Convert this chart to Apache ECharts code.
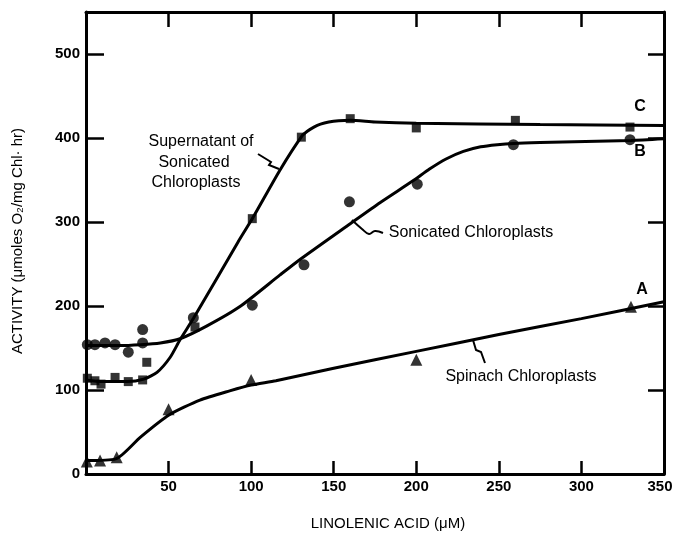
<!DOCTYPE html>
<html><head><meta charset="utf-8">
<script src="https://cdn.jsdelivr.net/npm/echarts@6/dist/echarts.min.js"></script>
<style>html,body{margin:0;padding:0;background:#fff}#c{width:674px;height:533px}</style>
</head><body><div id="c"></div>
<script>
// Measured points (x = linolenic acid µM, y = activity)
const pointsA = [[0.5,15],[8.5,16],[18.6,20],[50,77],[100,112],[200,136],[330,199]];
const pointsB = [[0.8,154],[5.4,154],[11.5,156],[17.6,154],[25.6,145],[34.3,156],[34.3,172],[65,186],[100.7,201],[132,249],[159.5,324],[200.6,345],[258.8,392],[329.4,398]];
const pointsC = [[0.8,114],[5.4,111],[9.1,107],[17.6,115],[25.6,110],[34.3,112],[36.8,133],[66,175],[100.7,304],[130.4,401],[160,423],[200,412],[260,421],[329.4,413]];
// Hand-drawn fitted curves
const curveA = [[0,16],[18,18],[33,44],[50,70],[69,88],[87,99],[100,106],[115,111],[150,126],[200,146],[250,166],[300,185],[350,205]];
const curveB = [[0,153],[20,153],[33,154],[45,156],[57,161],[73,176],[93,199],[117.5,237],[130,256],[160,298],[178,323],[198,349],[208,363],[218,375],[228.5,384],[239,389.5],[249,392],[259,393.5],[275,394.5],[330,397],[350,399]];
const curveC = [[0,112],[10,110],[25,110],[35,113],[43,121],[51,139],[57,160],[65,185],[92,276],[101,305],[117.5,362],[130.6,402],[134,408],[138,413],[142,416.5],[147,419],[153,420.5],[160,421],[175,419],[200,417.5],[275,416],[350,415]];
const xTicks = [0,50,100,150,200,250,300,350];
const yTicks = [0,100,200,300,400,500];

const chart = echarts.init(document.getElementById('c'), null, {renderer:'canvas'});
const tickFont = {fontFamily:"'Liberation Sans',Arial,sans-serif", fontWeight:'bold', fontSize:15, color:'#000'};
const txtFont = "16px 'Liberation Sans', Arial, sans-serif";
const blk = '#000';
const lineSer = (d) => ({type:'line', data:d, showSymbol:false, smooth:0.22, silent:true, lineStyle:{color:blk,width:3}, z:2});
const ptSer = (d, sym, size) => ({type:'scatter', data:d, symbol:sym, symbolSize:size, itemStyle:{color:blk}, silent:true, z:3});
const frameLine = {onZero:false, lineStyle:{color:blk,width:3}};
const lastX = xTicks[xTicks.length-1];

chart.setOption({
  animation:false,
  backgroundColor:'#fff',
  grid:{left:86, right:10, top:12, bottom:59, containLabel:false, outerBoundsMode:'none'},
  xAxis:[
    {type:'value', min:0, max:350, interval:50, position:'bottom',
     axisLine:frameLine, splitLine:{show:false},
     axisTick:{inside:true, length:13, lineStyle:{color:blk,width:2.5}},
     axisLabel:Object.assign({margin:5,
       formatter:v=> (v===0||xTicks.indexOf(v)<0)?'':(v===lastX?'{r|'+v+'}':String(v)),
       rich:{r:{fontFamily:"'Liberation Sans',Arial,sans-serif", fontWeight:'bold', fontSize:15, color:'#000', padding:[0,8,0,0]}}}, tickFont)},
    {type:'value', min:0, max:350, interval:50, position:'top',
     axisLine:frameLine, splitLine:{show:false},
     axisTick:{inside:true, length:15, lineStyle:{color:blk,width:2.5}}, axisLabel:{show:false}}
  ],
  yAxis:[
    {type:'value', min:0, max:550, interval:100, position:'left',
     axisLine:frameLine, splitLine:{show:false},
     axisTick:{inside:true, length:18, lineStyle:{color:blk,width:2.5}},
     axisLabel:Object.assign({margin:6, formatter:v=> yTicks.indexOf(v)<0?'':String(v)}, tickFont)},
    {type:'value', min:0, max:550, interval:100, position:'right',
     axisLine:frameLine, splitLine:{show:false},
     axisTick:{inside:true, length:16, lineStyle:{color:blk,width:2.5}}, axisLabel:{show:false}}
  ],
  series:[
    lineSer(curveA), lineSer(curveB), lineSer(curveC),
    ptSer(pointsA,'triangle',12), ptSer(pointsB,'circle',11), ptSer(pointsC,'rect',9)
  ],
  graphic:[
    {type:'text', x:18, y:241, rotation:Math.PI/2, style:{text:'ACTIVITY (μmoles O₂/mg Chl· hr)', font:"15px 'Liberation Sans', Arial, sans-serif", fill:blk, align:'center', verticalAlign:'middle'}},
    {type:'text', x:388, y:524, style:{text:'LINOLENIC ACID (μM)', font:"15px 'Liberation Sans', Arial, sans-serif", fill:blk, align:'center', verticalAlign:'middle'}},
    {type:'text', x:201, y:142, style:{text:'Supernatant of', font:txtFont, fill:blk, align:'center', verticalAlign:'middle'}},
    {type:'text', x:194, y:163, style:{text:'Sonicated', font:txtFont, fill:blk, align:'center', verticalAlign:'middle'}},
    {type:'text', x:196, y:183, style:{text:'Chloroplasts', font:txtFont, fill:blk, align:'center', verticalAlign:'middle'}},
    {type:'text', x:471, y:233, style:{text:'Sonicated Chloroplasts', font:txtFont, fill:blk, align:'center', verticalAlign:'middle'}},
    {type:'text', x:521, y:377, style:{text:'Spinach Chloroplasts', font:txtFont, fill:blk, align:'center', verticalAlign:'middle'}},
    {type:'text', x:640, y:107, style:{text:'C', font:"bold 16px 'Liberation Sans', Arial, sans-serif", fill:blk, align:'center', verticalAlign:'middle'}},
    {type:'text', x:640, y:152, style:{text:'B', font:"bold 16px 'Liberation Sans', Arial, sans-serif", fill:blk, align:'center', verticalAlign:'middle'}},
    {type:'text', x:642, y:290, style:{text:'A', font:"bold 16px 'Liberation Sans', Arial, sans-serif", fill:blk, align:'center', verticalAlign:'middle'}},
    {type:'polyline', shape:{points:[[258,154],[271,162],[269,165],[279,169]]}, style:{stroke:blk, lineWidth:2, fill:null}},
    {type:'polyline', shape:{points:[[352,220],[362,229],[369,234],[375,231],[383,233]], smooth:0.4}, style:{stroke:blk, lineWidth:2, fill:null}},
    {type:'polyline', shape:{points:[[473,340],[476,350],[481,352],[485,363]]}, style:{stroke:blk, lineWidth:2, fill:null}}
  ]
});
</script></body></html>
